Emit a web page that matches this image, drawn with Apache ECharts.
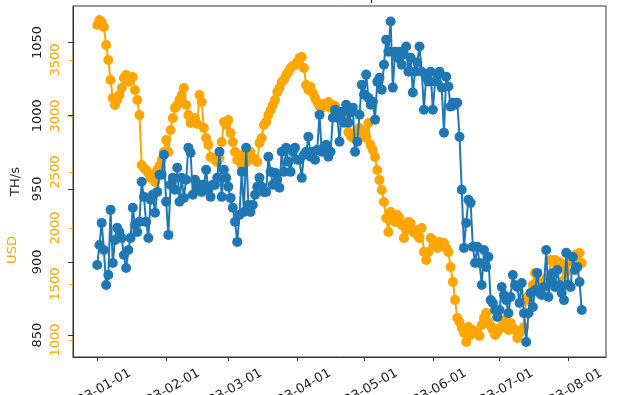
<!DOCTYPE html>
<html>
<head>
<meta charset="utf-8">
<script src="https://cdn.jsdelivr.net/npm/echarts@6/dist/echarts.min.js"></script>
<style>html,body{margin:0;padding:0;background:#fff}#c{width:640px;height:395px}</style>
</head>
<body>
<div id="c"></div>
<script>
// Daily observations starting 2023-01-01
var startYear = 2023, startMonth = 0, startDay = 1;
var hashrateTHs = [897.9,911.6,926.7,908.2,884.2,891.1,935.6,899.3,915,923.3,920.5,916.4,904.8,895.9,908.2,916.4,937,925.3,920.5,927.4,954.8,944.5,927.4,916.4,942.5,945.9,933.6,947.9,959.6,959.6,973.3,941.1,918.5,952.7,957.5,949.3,964.4,941.1,957.5,943.8,956.2,978.1,974.6,945.9,956.2,950.7,952.7,947.9,952.7,963,949.3,944.5,952.7,952.7,957.5,975.3,944.5,963,957.5,951.4,943.8,937,927.4,913.7,932.2,961.6,934.2,978.1,939,934.2,939,945.9,951.4,957.5,951.4,947.9,947.9,971.9,961.6,952.7,960.9,956.2,950.7,975.3,961.6,978.1,968.5,961.6,975.3,978.1,969.9,969.9,957.5,973.3,975.3,985.6,971.9,975.3,969.9,976.7,1000.7,975.3,978.1,980.1,971.9,975.3,998.6,1004.1,998.6,982.2,1002.7,995.2,1007.5,995.2,1002,1005.5,975.3,982.2,1000.7,1021.2,1014.4,1028.1,1012.3,1007.5,1009.6,997.3,1023.3,1026,1017.8,1034.9,1052,1043.8,1064.4,1019.2,1043.8,1039.7,1043.8,1034.9,1041.8,1047.3,1030.1,1039.7,1015.8,1030.1,1036.3,1047.3,1030.1,1004.1,1026.7,1023.3,1030.1,1004.1,1023.3,1028.1,1030.1,1019.2,988.4,1026.7,1019.9,1006.2,1008.9,1007.5,1008.9,985.6,949.3,909.6,926.7,942.5,940.4,910.3,899.3,910.3,899.3,884.2,908.2,896.6,903.4,873.9,871.9,867.1,862.3,867.1,882.9,877.4,873.9,865,876,891.1,884.2,882.9,871.9,885.6,865,845.2,865,878.8,869.2,880.8,892.5,878.8,877.4,882.9,908.2,876,887.7,892.5,882.9,894.5,884.2,878.8,873.9,906.2,884.2,882.9,903.4,894.5,896.6,886.3,867.1];
var priceUSD = [3813,3857,3839,3795,3634,3500,3321,3161,3098,3143,3188,3250,3339,3366,3304,3321,3348,3232,3143,3009,2562,2536,2518,2491,2446,2464,2411,2518,2553,2607,2678,2786,2678,2875,2982,3071,3098,3143,3188,3250,3098,3009,2937,2946,2982,2928,3188,3125,2893,2804,2741,2634,2625,2607,2589,2625,2768,2946,2920,2964,2848,2768,2678,2607,2652,2562,2652,2589,2607,2678,2625,2607,2589,2759,2804,2920,2946,3009,3054,3098,3143,3214,3250,3304,3321,3366,3393,3429,3446,3455,3482,3518,3527,3429,3277,3232,3259,3205,3161,3125,3089,3071,3107,3098,3125,3071,3098,3089,3036,3018,3009,2982,3000,2857,2821,2804,2830,2875,2893,2839,2857,2804,2937,2741,2696,2634,2518,2428,2339,2232,2089,1964,2143,2071,2053,2116,2089,2027,1911,1982,2053,2044,1964,1982,1937,1911,2000,1786,1714,1786,1911,1893,1848,1821,1875,1839,1866,1821,1786,1652,1518,1357,1196,1160,1107,1062,982,1116,1045,1089,1062,1062,1036,1134,1196,1241,1160,1125,1089,1045,1071,1107,1116,1178,1125,1089,1152,1107,1089,1018,1062,1089,1116,1357,1393,1419,1491,1598,1536,1464,1491,1518,1554,1536,1714,1696,1714,1670,1696,1652,1536,1607,1687,1741,1696,1759,1741,1777,1687];
var hashTicks = [850, 900, 950, 1000, 1050];
var usdTicks = [1000, 1500, 2000, 2500, 3000, 3500];
var monthTicks = ['2023-01-01','2023-02-01','2023-03-01','2023-04-01','2023-05-01','2023-06-01','2023-07-01','2023-08-01'];

var DAY = 86400000;
function dayTs(i){ return new Date(startYear, startMonth, startDay + i).getTime(); }
var blueData = hashrateTHs.map(function(v,i){ return [dayTs(i), v]; });
var orangeData = priceUSD.map(function(v,i){ return [dayTs(i), v]; });
var tickTs = monthTicks.map(function(s){ var p = s.split('-'); return new Date(+p[0], +p[1]-1, +p[2]).getTime(); });
var n = hashrateTHs.length;
var span = (n - 1) * DAY;
var xMin = dayTs(0) - 0.05 * span;
var xMax = dayTs(n - 1) + 0.05 * span;

var ORANGE = '#FFA500', BLUE = '#1f77b4', INK = '#222';
function plain(v){ return String(v); }
var chart = echarts.init(document.getElementById('c'), null, {renderer: 'canvas'});
chart.setOption({
  animation: false,
  backgroundColor: '#fff',
  grid: {left: 73, right: 34, top: 6, bottom: 38, containLabel: false, outerBoundsMode: 'none', show: true, borderColor: '#333', borderWidth: 1, backgroundColor: 'transparent'},
  xAxis: {
    type: 'time', min: xMin, max: xMax,
    axisLine: {show: true, lineStyle: {color: '#333', width: 1}},
    axisTick: {show: true, length: 4, customValues: tickTs, lineStyle: {color: '#333'}},
    axisLabel: {customValues: tickTs, formatter: '{yyyy}-{MM}-{dd}', rotate: 30, align: 'center', verticalAlign: 'middle', margin: 34, fontSize: 13, color: INK, fontFamily: 'DejaVu Sans', hideOverlap: false},
    splitLine: {show: false}
  },
  yAxis: [
    {
      type: 'value', position: 'left', min: 835, max: 1075,
      axisLine: {show: true, lineStyle: {color: '#333'}},
      axisTick: {show: true, length: 5, customValues: hashTicks, lineStyle: {color: '#333'}},
      axisLabel: {customValues: hashTicks, formatter: plain, rotate: 90, margin: 29, fontSize: 13, color: INK, fontFamily: 'DejaVu Sans'},
      splitLine: {show: false},
      name: 'TH/s', nameLocation: 'middle', nameGap: 51, nameRotate: 90,
      nameTextStyle: {fontSize: 13, color: INK, fontFamily: 'DejaVu Sans'}
    },
    {
      type: 'value', position: 'left', offset: 0, min: 848, max: 3982,
      axisLine: {show: false},
      axisTick: {show: true, length: 4, customValues: usdTicks, lineStyle: {color: ORANGE}},
      axisLabel: {customValues: usdTicks, formatter: plain, rotate: 90, margin: 11, fontSize: 13, color: ORANGE, fontFamily: 'DejaVu Sans'},
      splitLine: {show: false}
    }
  ],
  graphic: [
    {type: 'text', x: 13, y: 250, rotation: Math.PI / 2, style: {text: 'USD', fill: ORANGE, fontSize: 13, fontFamily: 'DejaVu Sans', textAlign: 'center', textVerticalAlign: 'middle'}},
    {type: 'text', x: 340, y: 3, style: {text: 'Hashrate and price', fill: INK, fontSize: 13, fontFamily: 'DejaVu Sans', textAlign: 'center', textVerticalAlign: 'bottom'}}
  ],
  series: [
    {type: 'line', yAxisIndex: 1, data: orangeData, symbol: 'circle', symbolSize: 10, showAllSymbol: true, itemStyle: {color: ORANGE}, lineStyle: {color: ORANGE, width: 2}, z: 2},
    {type: 'line', yAxisIndex: 0, data: blueData, symbol: 'circle', symbolSize: 10, showAllSymbol: true, itemStyle: {color: BLUE}, lineStyle: {color: BLUE, width: 2}, z: 3}
  ]
});
</script>
</body>
</html>
